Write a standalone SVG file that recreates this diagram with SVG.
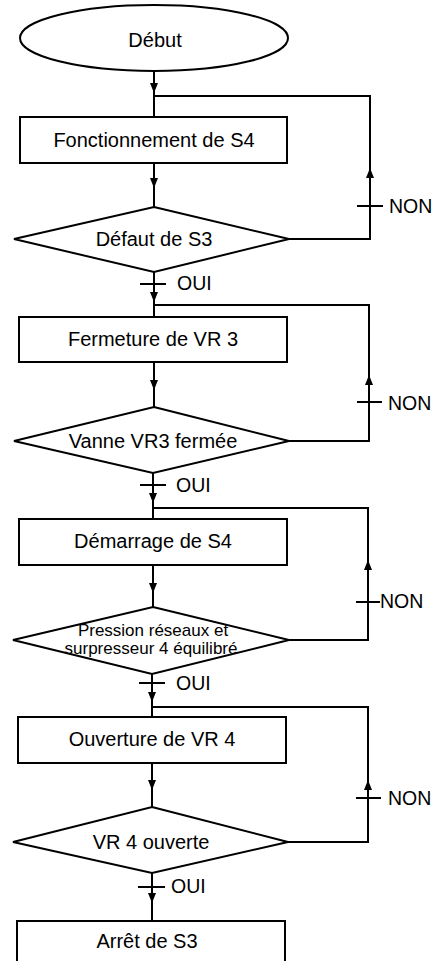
<svg xmlns="http://www.w3.org/2000/svg" xmlns:xlink="http://www.w3.org/1999/xlink" width="433" height="961" viewBox="0 0 433 961">
<style>
.s{fill:#fff;stroke:#000;stroke-width:2}
.c{fill:none;stroke:#000;stroke-width:2}
.t{font-family:"Liberation Sans",Arial,sans-serif;font-size:20px;fill:#000;text-anchor:middle}
.sm{font-size:17px}
.l{font-family:"Liberation Sans",Arial,sans-serif;font-size:19.5px;fill:#000}
</style>
<defs>
<path id="ad" d="M0,0 L-4,-10 L4,-10 Z" fill="#000"/>
<path id="au" d="M0,0 L-4,10 L4,10 Z" fill="#000"/>
</defs>
<rect width="433" height="961" fill="#fff"/>
<g id="connectors">
<path class="c" d="M154,71 V117"/>
<use xlink:href="#ad" x="154" y="93"/>
<path class="c" d="M154,163 V207"/>
<use xlink:href="#ad" x="154" y="188"/>
<path class="c" d="M289,239 H370 V96 H154"/>
<use xlink:href="#au" x="370" y="168"/>
<path class="c" d="M357,206 H383"/>
<text class="l" x="389" y="213">NON</text>
<path class="c" d="M154,272 V317"/>
<path class="c" d="M140,284 H166"/>
<text class="l" x="177" y="290">OUI</text>
<use xlink:href="#ad" x="154" y="302"/>
<path class="c" d="M154,362 V407"/>
<use xlink:href="#ad" x="154" y="390"/>
<path class="c" d="M289,441 H369 V305 H154"/>
<use xlink:href="#au" x="369" y="375"/>
<path class="c" d="M357,402 H382"/>
<text class="l" x="388" y="410">NON</text>
<path class="c" d="M153,473 V519"/>
<path class="c" d="M140,485 H166"/>
<text class="l" x="176" y="492">OUI</text>
<use xlink:href="#ad" x="153" y="503"/>
<path class="c" d="M153,565 V607"/>
<use xlink:href="#ad" x="153" y="593"/>
<path class="c" d="M289,640 H368 V508 H153"/>
<use xlink:href="#au" x="368" y="560"/>
<path class="c" d="M356,602 H380"/>
<text class="l" x="380" y="608">NON</text>
<path class="c" d="M152,674 V717"/>
<path class="c" d="M139,683 H165"/>
<text class="l" x="176" y="690">OUI</text>
<use xlink:href="#ad" x="152" y="702"/>
<path class="c" d="M152,763 V807"/>
<use xlink:href="#ad" x="152" y="790"/>
<path class="c" d="M288,842 H368 V707 H152"/>
<use xlink:href="#au" x="368" y="780"/>
<path class="c" d="M356,798 H381"/>
<text class="l" x="388" y="805">NON</text>
<path class="c" d="M152,873 V921"/>
<path class="c" d="M138,887 H165"/>
<text class="l" x="171" y="893">OUI</text>
<use xlink:href="#ad" x="152" y="903"/>
</g>
<g id="debut">
<ellipse class="s" cx="154" cy="38" rx="134" ry="33"/>
<text class="t" x="155" y="47">Début</text>
</g>
<g id="fonctionnement">
<rect class="s" x="20" y="117" width="267" height="46"/>
<text class="t" x="154" y="147">Fonctionnement de S4</text>
</g>
<g id="defaut">
<polygon class="s" points="154,207 289,239 154,272 14,239"/>
<text class="t" x="154" y="246">Défaut de S3</text>
</g>
<g id="fermeture">
<rect class="s" x="19" y="317" width="268" height="45"/>
<text class="t" x="153" y="346">Fermeture de VR 3</text>
</g>
<g id="vanne">
<polygon class="s" points="154,407 289,441 153,473 14,441"/>
<text class="t" x="153" y="448">Vanne VR3 fermée</text>
</g>
<g id="demarrage">
<rect class="s" x="19" y="519" width="268" height="46"/>
<text class="t" x="153" y="548">Démarrage de S4</text>
</g>
<g id="pression">
<polygon class="s" points="153,607 289,640 152,674 13,640"/>
<text class="t sm" x="153" y="636">Pression réseaux et</text>
<text class="t sm" x="151" y="654">surpresseur 4 équilibré</text>
</g>
<g id="ouverture">
<rect class="s" x="18" y="717" width="268" height="46"/>
<text class="t" x="152" y="746">Ouverture de VR 4</text>
</g>
<g id="vr4ouverte">
<polygon class="s" points="152,807 288,842 152,873 13,842"/>
<text class="t" x="151" y="849">VR 4 ouverte</text>
</g>
<g id="arret">
<rect class="s" x="17" y="921" width="268" height="60"/>
<text class="t" x="147" y="948">Arrêt de S3</text>
</g>
</svg>
